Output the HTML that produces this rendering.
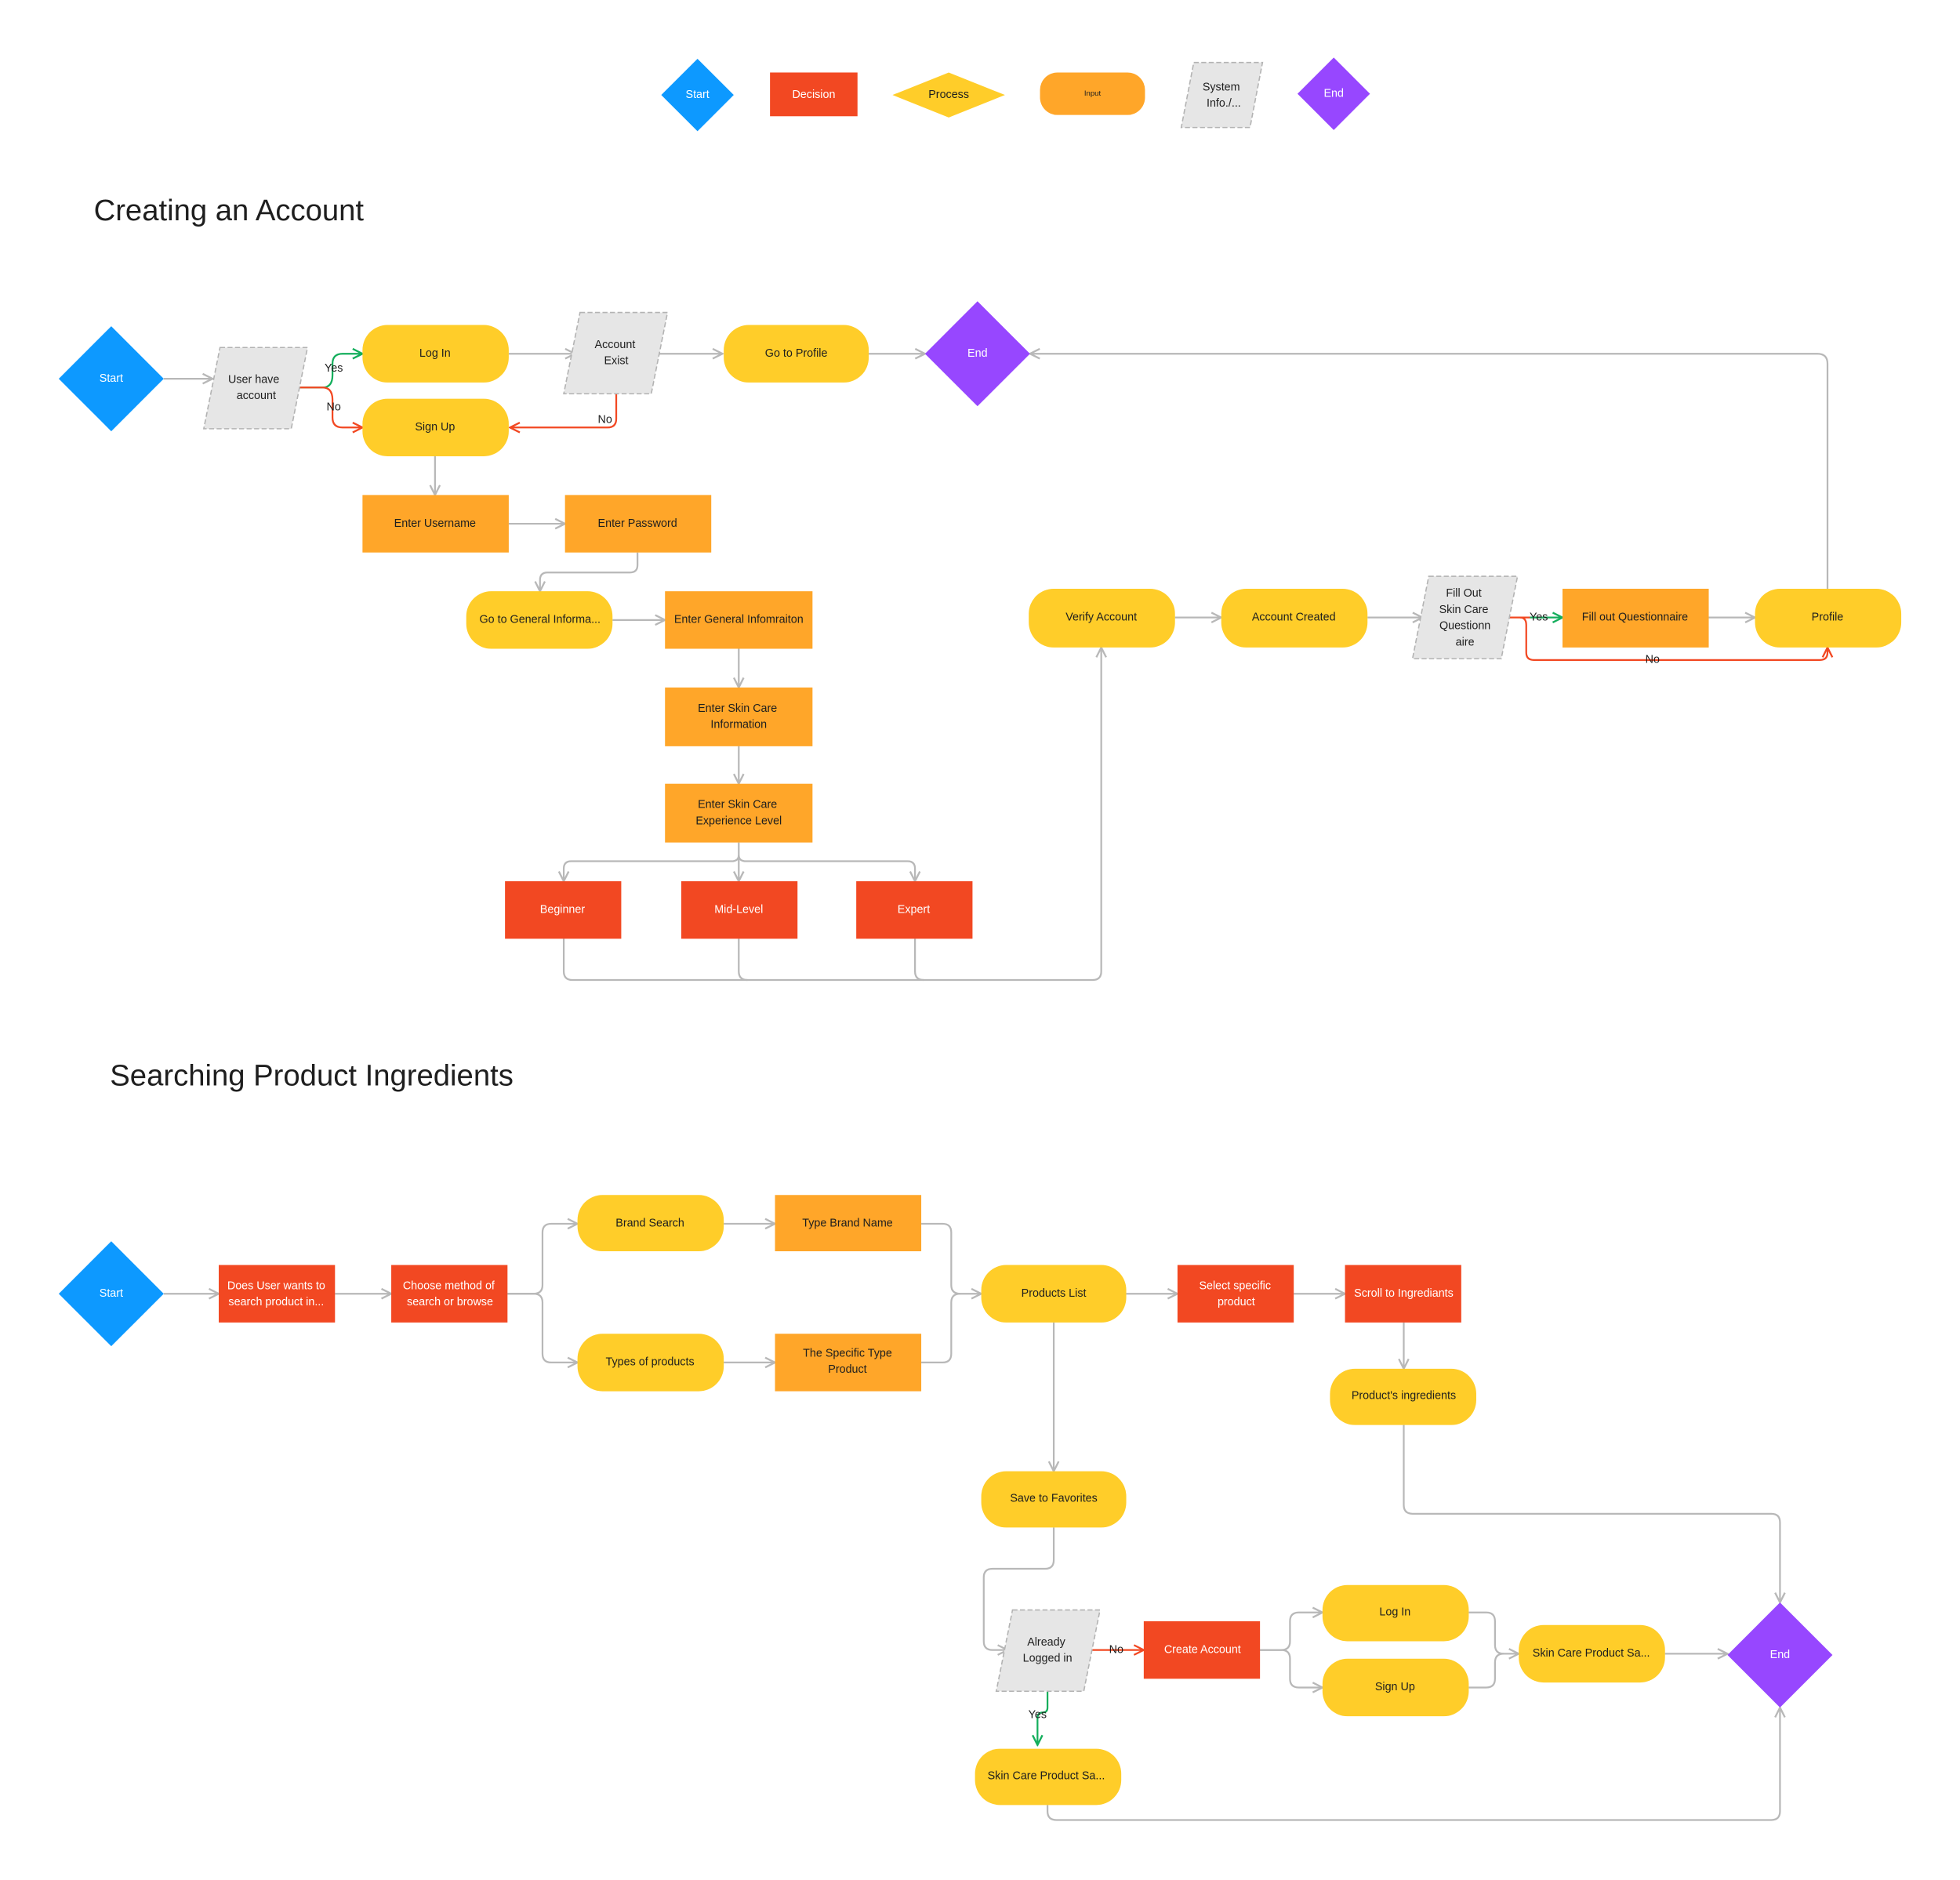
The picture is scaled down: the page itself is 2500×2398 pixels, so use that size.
<!DOCTYPE html>
<html><head><meta charset="utf-8"><style>
html,body{margin:0;padding:0;background:#fff;}
svg{display:block;}
text{font-family:"Liberation Sans",sans-serif;font-size:9px;text-anchor:middle;dominant-baseline:middle;}
.w{fill:#fff}.d{fill:#1e1e1e}
.c{fill:none;stroke:#b8b8b8;stroke-width:1.4}
.r{fill:none;stroke:#f24822;stroke-width:1.4}
.g{fill:none;stroke:#14ae5c;stroke-width:1.4}
</style></head><body>
<svg width="2500" height="2398" viewBox="0 0 1568 1504" preserveAspectRatio="none" xmlns="http://www.w3.org/2000/svg">
<defs>
<marker id="a" viewBox="0 0 10 10" refX="9" refY="5" markerWidth="7" markerHeight="7" orient="auto"><path d="M1,1 L9,5 L1,9" fill="none" stroke="#b8b8b8" stroke-width="1.5"/></marker>
<marker id="ar" viewBox="0 0 10 10" refX="9" refY="5" markerWidth="7" markerHeight="7" orient="auto"><path d="M1,1 L9,5 L1,9" fill="none" stroke="#f24822" stroke-width="1.5"/></marker>
<marker id="ag" viewBox="0 0 10 10" refX="9" refY="5" markerWidth="7" markerHeight="7" orient="auto"><path d="M1,1 L9,5 L1,9" fill="none" stroke="#14ae5c" stroke-width="1.5"/></marker>
</defs>
<rect width="1568" height="1504" fill="#fff"/>

<!-- Legend -->
<polygon points="558,47 587,76 558,105 529,76" fill="#0d99ff"/><text x="558" y="76" class="w">Start</text>
<rect x="616" y="58" width="70" height="35" fill="#f24822"/><text x="651" y="76" class="w">Decision</text>
<polygon points="759,58 804,76 759,94 714,76" fill="#ffcd29"/><text x="759" y="76" class="d">Process</text>
<rect x="832" y="58" width="84" height="34" rx="14" fill="#ffa629"/><text x="874" y="75" class="d" style="font-size:6px">Input</text>
<polygon points="955,50 1010,50 1000,102 945,102" fill="#e6e6e6" stroke="#b3b3b3" stroke-dasharray="4,2"/><text x="977" y="70" class="d">System</text><text x="979" y="83" class="d">Info./...</text>
<polygon points="1067,46 1096,75 1067,104 1038,75" fill="#9747ff"/><text x="1067" y="75" class="w">End</text>

<text x="75" y="170" class="d" style="font-size:24px;text-anchor:start">Creating an Account</text>

<!-- connectors section 1 -->
<path class="c" d="M131,303 H170" marker-end="url(#a)"/>
<path class="g" d="M238,310 H258 Q266,310 266,300 V291 Q266,283 274,283 H290" marker-end="url(#ag)"/>
<path class="r" d="M238,310 H258 Q266,310 266,320 V334 Q266,342 274,342 H290" marker-end="url(#ar)"/>
<text x="267" y="295" class="d">Yes</text><text x="267" y="326" class="d">No</text>
<path class="c" d="M407,283 H460" marker-end="url(#a)"/>
<path class="c" d="M525,283 H578" marker-end="url(#a)"/>
<path class="c" d="M695,283 H740" marker-end="url(#a)"/>
<path class="c" d="M1462,471 V291 Q1462,283 1454,283 H824" marker-end="url(#a)"/>
<path class="r" d="M493,315 V335 Q493,342 486,342 H408" marker-end="url(#ar)"/>
<text x="484" y="336" class="d">No</text>
<path class="c" d="M348,365 V396" marker-end="url(#a)"/>
<path class="c" d="M407,419 H452" marker-end="url(#a)"/>
<path class="c" d="M510,442 V452 Q510,458 504,458 H438 Q432,458 432,464 V473" marker-end="url(#a)"/>
<path class="c" d="M490,496 H532" marker-end="url(#a)"/>
<path class="c" d="M591,519 V550" marker-end="url(#a)"/>
<path class="c" d="M591,597 V627" marker-end="url(#a)"/>
<path class="c" d="M591,674 V705" marker-end="url(#a)"/>
<path class="c" d="M591,684 Q591,689 585,689 H457 Q451,689 451,695 V705" marker-end="url(#a)"/>
<path class="c" d="M591,684 Q591,689 597,689 H726 Q732,689 732,695 V705" marker-end="url(#a)"/>
<path class="c" d="M451,751 V777 Q451,784 458,784 H874 Q881,784 881,777 V518" marker-end="url(#a)"/>
<path class="c" d="M591,751 V777 Q591,784 598,784"/>
<path class="c" d="M732,751 V777 Q732,784 739,784"/>
<path class="c" d="M940,494 H977" marker-end="url(#a)"/>
<path class="c" d="M1094,494 H1138" marker-end="url(#a)"/>
<path class="r" d="M1206,494 H1224"/>
<path class="g" d="M1224,494 H1250" marker-end="url(#ag)"/>
<text x="1231" y="494" class="d">Yes</text>
<path class="r" d="M1216,494 Q1221,494 1221,500 V522 Q1221,528 1227,528 H1456 Q1462,528 1462,522 V518" marker-end="url(#ar)"/>
<text x="1322" y="528" class="d">No</text>
<path class="c" d="M1367,494 H1404" marker-end="url(#a)"/>

<!-- nodes section 1 -->
<polygon points="89,261 131,303 89,345 47,303" fill="#0d99ff"/><text x="89" y="303" class="w">Start</text>
<polygon points="176,278 246,278 233,343 163,343" fill="#e6e6e6" stroke="#b3b3b3" stroke-dasharray="4,2"/><text x="203" y="304" class="d">User have</text><text x="205" y="317" class="d">account</text>
<rect x="290" y="260" width="117" height="46" rx="20" fill="#ffcd29"/><text x="348" y="283" class="d">Log In</text>
<rect x="290" y="319" width="117" height="46" rx="20" fill="#ffcd29"/><text x="348" y="342" class="d">Sign Up</text>
<polygon points="464,250 534,250 521,315 451,315" fill="#e6e6e6" stroke="#b3b3b3" stroke-dasharray="4,2"/><text x="492" y="276" class="d">Account</text><text x="493" y="289" class="d">Exist</text>
<rect x="579" y="260" width="116" height="46" rx="20" fill="#ffcd29"/><text x="637" y="283" class="d">Go to Profile</text>
<polygon points="782,241 824,283 782,325 740,283" fill="#9747ff"/><text x="782" y="283" class="w">End</text>
<rect x="290" y="396" width="117" height="46" fill="#ffa629"/><text x="348" y="419" class="d">Enter Username</text>
<rect x="452" y="396" width="117" height="46" fill="#ffa629"/><text x="510" y="419" class="d">Enter Password</text>
<rect x="373" y="473" width="117" height="46" rx="20" fill="#ffcd29"/><text x="432" y="496" class="d">Go to General Informa...</text>
<rect x="532" y="473" width="118" height="46" fill="#ffa629"/><text x="591" y="496" class="d">Enter General Infomraiton</text>
<rect x="532" y="550" width="118" height="47" fill="#ffa629"/><text x="590" y="567" class="d">Enter Skin Care</text><text x="591" y="580" class="d">Information</text>
<rect x="532" y="627" width="118" height="47" fill="#ffa629"/><text x="590" y="644" class="d">Enter Skin Care</text><text x="591" y="657" class="d">Experience Level</text>
<rect x="404" y="705" width="93" height="46" fill="#f24822"/><text x="450" y="728" class="w">Beginner</text>
<rect x="545" y="705" width="93" height="46" fill="#f24822"/><text x="591" y="728" class="w">Mid-Level</text>
<rect x="685" y="705" width="93" height="46" fill="#f24822"/><text x="731" y="728" class="w">Expert</text>
<rect x="823" y="471" width="117" height="47" rx="20" fill="#ffcd29"/><text x="881" y="494" class="d">Verify Account</text>
<rect x="977" y="471" width="117" height="47" rx="20" fill="#ffcd29"/><text x="1035" y="494" class="d">Account Created</text>
<polygon points="1143,461 1214,461 1201,527 1130,527" fill="#e6e6e6" stroke="#b3b3b3" stroke-dasharray="4,2"/>
<text x="1171" y="475" class="d">Fill Out</text><text x="1171" y="488" class="d">Skin Care</text><text x="1172" y="501" class="d">Questionn</text><text x="1172" y="514" class="d">aire</text>
<rect x="1250" y="471" width="117" height="47" fill="#ffa629"/><text x="1308" y="494" class="d">Fill out Questionnaire</text>
<rect x="1404" y="471" width="117" height="47" rx="20" fill="#ffcd29"/><text x="1462" y="494" class="d">Profile</text>

<text x="88" y="862" class="d" style="font-size:24px;text-anchor:start">Searching Product Ingredients</text>

<!-- connectors section 2 -->
<path class="c" d="M131,1035 H175" marker-end="url(#a)"/>
<path class="c" d="M268,1035 H313" marker-end="url(#a)"/>
<path class="c" d="M406,1035 H427 Q434,1035 434,1028 V986 Q434,979 441,979 H462" marker-end="url(#a)"/>
<path class="c" d="M406,1035 H427 Q434,1035 434,1042 V1083 Q434,1090 441,1090 H462" marker-end="url(#a)"/>
<path class="c" d="M579,979 H620" marker-end="url(#a)"/>
<path class="c" d="M579,1090 H620" marker-end="url(#a)"/>
<path class="c" d="M737,979 H754 Q761,979 761,986 V1028 Q761,1035 768,1035 H785" marker-end="url(#a)"/>
<path class="c" d="M737,1090 H754 Q761,1090 761,1083 V1042 Q761,1035 768,1035"/>
<path class="c" d="M901,1035 H942" marker-end="url(#a)"/>
<path class="c" d="M1035,1035 H1076" marker-end="url(#a)"/>
<path class="c" d="M1123,1058 V1095" marker-end="url(#a)"/>
<path class="c" d="M1123,1140 V1204 Q1123,1211 1130,1211 H1417 Q1424,1211 1424,1218 V1282" marker-end="url(#a)"/>
<path class="c" d="M843,1058 V1177" marker-end="url(#a)"/>
<path class="c" d="M843,1222 V1248 Q843,1255 836,1255 H794 Q787,1255 787,1262 V1313 Q787,1320 794,1320 H806" marker-end="url(#a)"/>
<path class="r" d="M872,1320 H915" marker-end="url(#ar)"/>
<text x="893" y="1320" class="d">No</text>
<path class="g" d="M838,1353 V1366 Q838,1370 834,1370 Q830,1370 830,1375 V1396" marker-end="url(#ag)"/>
<text x="830" y="1372" class="d">Yes</text>
<path class="c" d="M1008,1320 H1025 Q1032,1320 1032,1313 V1297 Q1032,1290 1039,1290 H1058" marker-end="url(#a)"/>
<path class="c" d="M1008,1320 H1025 Q1032,1320 1032,1327 V1343 Q1032,1350 1039,1350 H1058" marker-end="url(#a)"/>
<path class="c" d="M1175,1290 H1189 Q1196,1290 1196,1297 V1316 Q1196,1323 1203,1323 H1215" marker-end="url(#a)"/>
<path class="c" d="M1175,1350 H1189 Q1196,1350 1196,1343 V1330 Q1196,1323 1203,1323"/>
<path class="c" d="M1332,1323 H1382" marker-end="url(#a)"/>
<path class="c" d="M838,1444 V1449 Q838,1456 845,1456 H1417 Q1424,1456 1424,1449 V1366" marker-end="url(#a)"/>

<!-- nodes section 2 -->
<polygon points="89,993 131,1035 89,1077 47,1035" fill="#0d99ff"/><text x="89" y="1035" class="w">Start</text>
<rect x="175" y="1012" width="93" height="46" fill="#f24822"/><text x="221" y="1029" class="w">Does User wants to</text><text x="221" y="1042" class="w">search product in...</text>
<rect x="313" y="1012" width="93" height="46" fill="#f24822"/><text x="359" y="1029" class="w">Choose method of</text><text x="360" y="1042" class="w">search or browse</text>
<rect x="462" y="956" width="117" height="45" rx="20" fill="#ffcd29"/><text x="520" y="979" class="d">Brand Search</text>
<rect x="620" y="956" width="117" height="45" fill="#ffa629"/><text x="678" y="979" class="d">Type Brand Name</text>
<rect x="462" y="1067" width="117" height="46" rx="20" fill="#ffcd29"/><text x="520" y="1090" class="d">Types of products</text>
<rect x="620" y="1067" width="117" height="46" fill="#ffa629"/><text x="678" y="1083" class="d">The Specific Type</text><text x="678" y="1096" class="d">Product</text>
<rect x="785" y="1012" width="116" height="46" rx="20" fill="#ffcd29"/><text x="843" y="1035" class="d">Products List</text>
<rect x="942" y="1012" width="93" height="46" fill="#f24822"/><text x="988" y="1029" class="w">Select specific</text><text x="989" y="1042" class="w">product</text>
<rect x="1076" y="1012" width="93" height="46" fill="#f24822"/><text x="1123" y="1035" class="w">Scroll to Ingrediants</text>
<rect x="1064" y="1095" width="117" height="45" rx="20" fill="#ffcd29"/><text x="1123" y="1117" class="d">Product's ingredients</text>
<rect x="785" y="1177" width="116" height="45" rx="20" fill="#ffcd29"/><text x="843" y="1199" class="d">Save to Favorites</text>
<polygon points="810,1288 880,1288 867,1353 797,1353" fill="#e6e6e6" stroke="#b3b3b3" stroke-dasharray="4,2"/><text x="837" y="1314" class="d">Already</text><text x="838" y="1327" class="d">Logged in</text>
<rect x="915" y="1297" width="93" height="46" fill="#f24822"/><text x="962" y="1320" class="w">Create Account</text>
<rect x="1058" y="1268" width="117" height="45" rx="20" fill="#ffcd29"/><text x="1116" y="1290" class="d">Log In</text>
<rect x="1058" y="1327" width="117" height="46" rx="20" fill="#ffcd29"/><text x="1116" y="1350" class="d">Sign Up</text>
<rect x="1215" y="1300" width="117" height="46" rx="20" fill="#ffcd29"/><text x="1273" y="1323" class="d">Skin Care Product Sa...</text>
<polygon points="1424,1282 1466,1324 1424,1366 1382,1324" fill="#9747ff"/><text x="1424" y="1324" class="w">End</text>
<rect x="780" y="1399" width="117" height="45" rx="20" fill="#ffcd29"/><text x="837" y="1421" class="d">Skin Care Product Sa...</text>
</svg>
</body></html>
